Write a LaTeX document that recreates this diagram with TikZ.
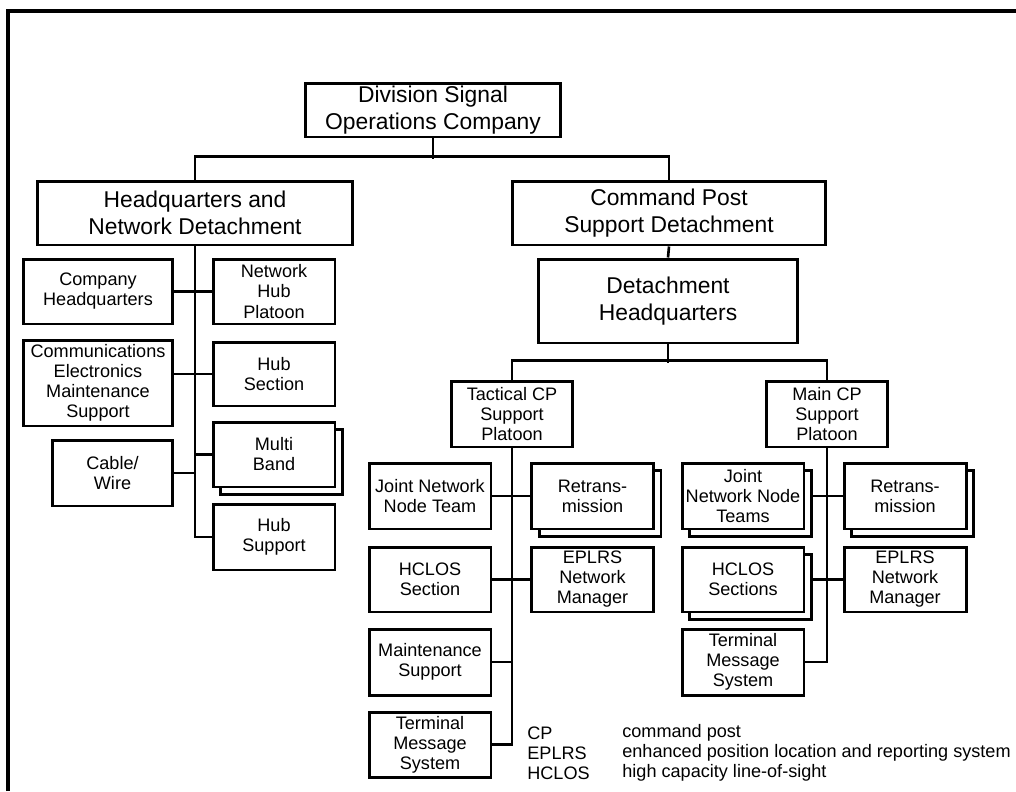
\documentclass[tikz,border=0pt]{standalone}
\usepackage{fontspec}
\setmainfont{Liberation Sans}
\usetikzlibrary{shadows,backgrounds}

\begin{document}
\begin{tikzpicture}[x=.02cm,y=-.02cm,
  box/.style={draw,fill=white,line width=1.7pt,align=center,inner sep=1pt,font=\fontsize{10.3}{11.4}\selectfont},
  bigbox/.style={box,font=\fontsize{13}{15}\selectfont},
  sbox/.style={box,minimum width=2.44cm,minimum height=1.3cm},
  stack/.style={sbox,copy shadow={shadow xshift=.15cm,shadow yshift=-.15cm}},
  link/.style={line width=1.5pt},
  legend/.style={anchor=west,inner sep=0pt,font=\fontsize{10.3}{11.4}\selectfont}]
\useasboundingbox (0,0) rectangle (1016,791);
\draw[line width=1.8pt] (8,791)--(8,11)--(1016,11);
% upper levels
\node[bigbox,minimum width=5.1cm,minimum height=1.08cm] (top) at (433,110) {Division Signal\\Operations Company};
\node[bigbox,minimum width=6.32cm,minimum height=1.28cm] (hqn) at (195,213) {Headquarters and\\Network Detachment};
\node[bigbox,minimum width=6.28cm,minimum height=1.28cm] (cpsd) at (669,213) {Command Post\\Support Detachment};
\node[bigbox,minimum width=5.2cm,minimum height=1.68cm] (dhq) at (668,301) {Detachment\\Headquarters};
\node[sbox,minimum width=2.42cm,minimum height=1.32cm] (tcp) at (512,414) {Tactical CP\\Support\\Platoon};
\node[sbox,minimum width=2.42cm,minimum height=1.32cm] (mcp) at (827,414) {Main CP\\Support\\Platoon};
% headquarters and network detachment
\node[sbox,minimum width=3cm] (chq) at (98,291.5) {Company\\Headquarters};
\node[sbox] (nhp) at (274,291.5) {Network\\Hub\\Platoon};
\node[sbox,minimum width=3cm,minimum height=1.72cm] (cems) at (98,383) {Communications\\Electronics\\Maintenance\\Support};
\node[sbox,minimum height=1.28cm] (hubsec) at (274,374) {Hub\\Section};
\node[stack] (mband) at (274,454.5) {Multi\\Band};
\node[sbox,minimum width=2.42cm,minimum height=1.32cm] (cable) at (112.5,473) {Cable/\\Wire};
\node[sbox,minimum height=1.32cm] (hubsup) at (274,537) {Hub\\Support};
% tactical CP support platoon
\node[sbox,minimum height=1.32cm] (jnnt) at (430,496) {Joint Network\\Node Team};
\node[stack,minimum height=1.32cm] (retra) at (592.5,496) {Retrans-\\mission};
\node[sbox] (hclosa) at (430,579.5) {HCLOS\\Section};
\node[sbox] (eplrsa) at (592.5,579.5) {EPLRS\\Network\\Manager};
\node[sbox,minimum height=1.32cm] (maint) at (430,662) {Maintenance\\Support};
\node[sbox] (tmsa) at (430,744.5) {Terminal\\Message\\System};
% main CP support platoon
\node[stack,minimum height=1.32cm] (jnnts) at (743,496) {Joint\\Network Node\\Teams};
\node[stack,minimum height=1.32cm] (retrb) at (905,496) {Retrans-\\mission};
\node[stack] (hclosb) at (743,579.5) {HCLOS\\Sections};
\node[sbox] (eplrsb) at (905,579.5) {EPLRS\\Network\\Manager};
\node[sbox,minimum height=1.32cm] (tmsb) at (743,662) {Terminal\\Message\\System};
% legend
\node[legend] (kcp) at (527,733) {CP};
\node[legend] (keplrs) at (527,753) {EPLRS};
\node[legend] (khclos) at (527,773) {HCLOS};
\node[legend] (dcp) at (622,733) {command post};
\node[legend] (deplrs) at (622,753) {enhanced position location and reporting system};
\node[legend] (dhclos) at (622,773) {high capacity line-of-sight};
\begin{scope}[on background layer]
\draw[link] (hqn.north)--++(0,-23)-|(cpsd.north) (top.south)--++(0,21);
\draw[link] (hqn.south)--(hqn.south|-hubsup.west)--(hubsup.west);
\draw[link] (chq.east)--(nhp.west);
\draw[link] (hubsec.west)--(hubsec.west-|cems.east);
\draw[link] (mband.west)--(mband.west-|hqn.south);
\draw[link] (cable.east)--(cable.east-|hqn.south);
\draw[link] (cpsd.south)--(dhq.north);
\draw[link] (tcp.north)--++(0,-19)-|(mcp.north) (dhq.south)--++(0,19);
\draw[link] (tcp.south)--(tcp.south|-tmsa.east)--(tmsa.east);
\draw[link] (jnnt.east)--(retra.west);
\draw[link] (hclosa.east)--(eplrsa.west);
\draw[link] (maint.east)--(maint.east-|tcp.south);
\draw[link] (mcp.south)--(mcp.south|-tmsb.east)--(tmsb.east);
\draw[link] (jnnts.east)--(retrb.west);
\draw[link] (hclosb.east)--(eplrsb.west);
\end{scope}
\end{tikzpicture}
\end{document}
